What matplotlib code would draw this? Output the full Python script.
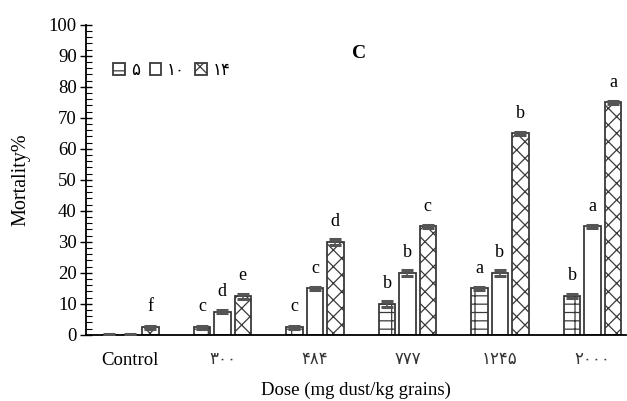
import numpy as np
import matplotlib.pyplot as plt
from matplotlib.ticker import MultipleLocator

plt.rcParams['font.family'] = ['Liberation Serif', 'DejaVu Sans']
plt.rcParams['hatch.linewidth'] = 0.9

doses = ['Control', '۳۰۰', '۴۸۴', '۷۷۷', '۱۲۴۵', '۲۰۰۰']
days = ['۵', '۱۰', '۱۴']
mort_5 = [0, 2.5, 2.5, 10, 15, 12.5]
mort_10 = [0, 7.5, 15, 20, 20, 35]
mort_14 = [2.5, 12.5, 30, 35, 65, 75]
err_5 = [0.3, 0.5, 0.5, 1.0, 0.5, 0.6]
err_10 = [0.3, 0.5, 0.5, 1.0, 1.0, 0.5]
err_14 = [0.5, 0.8, 1.0, 0.5, 0.5, 0.5]
let_5 = ['', 'c', 'c', 'b', 'a', 'b']
let_10 = ['', 'd', 'c', 'b', 'b', 'a']
let_14 = ['f', 'e', 'd', 'c', 'b', 'a']


def main():
    fig = plt.figure(figsize=(6.27, 4.01), dpi=100)
    ax = fig.add_axes([0.137, 0.165, 0.861, 0.773])

    x = np.arange(len(doses))
    w = 0.178
    off = 0.221
    edge = '#3a3a3a'
    series = [(mort_5, err_5, let_5, '+-'), (mort_10, err_10, let_10, ''),
              (mort_14, err_14, let_14, 'xx')]
    for i, (vals, errs, lets, h) in enumerate(series):
        pos = x + (i - 1) * off
        ax.bar(pos, vals, w, color='white', edgecolor=edge, linewidth=1.3,
               hatch=h, label=days[i], zorder=2)
        ax.errorbar(pos, vals, yerr=errs, fmt='none', ecolor='#555555',
                    elinewidth=1.2, capsize=4, capthick=2.2, zorder=3)
        for p, v, e, t in zip(pos, vals, errs, lets):
            if t:
                ax.annotate(t, (p, v), xytext=(0, 14.5), textcoords='offset points',
                            ha='center', va='center', fontsize=13)

    ax.set_xlim(-0.475, 5.36)
    ax.set_ylim(0, 100)
    ax.yaxis.set_major_locator(MultipleLocator(10))
    ax.yaxis.set_minor_locator(MultipleLocator(2))
    ax.tick_params(axis='y', which='major', direction='inout', length=9,
                   width=1, labelsize=13.5, pad=2)
    ax.tick_params(axis='y', which='minor', direction='in', length=4, width=0.8)
    ax.set_xticks(x)
    ax.set_xticklabels(doses)
    ax.tick_params(axis='x', length=0, labelsize=12, pad=12)
    ax.get_xticklabels()[0].set_fontsize(13.5)
    for lbl in ax.get_xticklabels()[1:]:
        lbl.set_color('#333333')
    ax.spines['top'].set_visible(False)
    ax.spines['right'].set_visible(False)
    ax.spines['left'].set_linewidth(1.3)
    ax.spines['bottom'].set_linewidth(1.3)

    ax.set_ylabel('Mortality%', fontsize=14.5)
    ax.yaxis.set_label_coords(-0.102, 0.5)
    ax.set_xlabel('Dose (mg dust/kg grains)', fontsize=13.5)
    ax.xaxis.set_label_coords(0.5, -0.152)

    ax.text(0.506, 0.906, 'C', transform=ax.transAxes, fontsize=14,
            fontweight='bold', ha='center', va='center')

    ax.legend(loc='upper left', bbox_to_anchor=(0.035, 0.905), ncol=3,
              frameon=False, fontsize=12, handlelength=0.7, handleheight=0.7,
              handletextpad=0.35, columnspacing=0.6, borderpad=0)

    plt.savefig('out.png', dpi=100)


if __name__ == '__main__':
    main()
